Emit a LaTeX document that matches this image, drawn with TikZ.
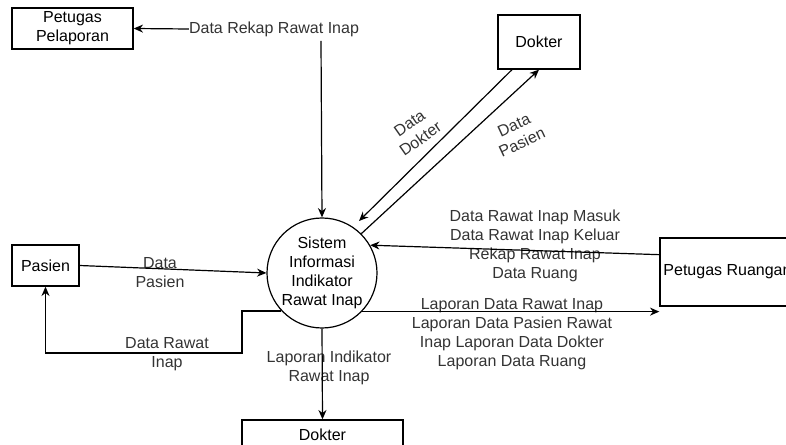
\documentclass[tikz,border=0pt]{standalone}
\usepackage{fontspec}
\setmainfont{Liberation Sans}
\usetikzlibrary{arrows.meta,calc}
\begin{document}
\begin{tikzpicture}[x=0.75pt,y=-0.75pt,
  every node/.style={font=\fontsize{12}{14.25}\selectfont, align=center},
  box/.style={draw, line width=1pt, inner sep=0pt, text=black},
  proc/.style={draw, circle, line width=0.9pt, minimum size=82.5pt, inner sep=0pt},
  lbl/.style={inner sep=0pt, text=black!80},
  arr/.style={draw, line width=0.9pt, -{Stealth[length=7pt,width=6pt]}},
  ln/.style={draw, line width=0.9pt}]
\useasboundingbox (0,0) rectangle (786,445);
% nodes
\node[box, minimum width=90.75pt, minimum height=30.75pt] (pp) at (72.5,28.5) {Petugas\\Pelaporan};
\node[box, minimum width=61.5pt, minimum height=40.5pt] (dk) at (539,42) {Dokter};
\node[box, minimum width=50.25pt, minimum height=30.75pt] (pas) at (45.5,265.5) {Pasien};
\node[box, minimum width=101.25pt, minimum height=51pt] (pr) at (727.5,272) {Petugas Ruangan};
\node[box, minimum width=120.75pt, minimum height=22.5pt] (dk2) at (322.5,435) {Dokter};
\node[proc] (sys) at (322,273) {Sistem\\Informasi\\Indikator\\Rawat Inap};
% labels
\node[lbl] (lrekap) at (274,29) {Data Rekap Rawat Inap};
\node[lbl] (lpas) at (160,272.5) {Data\\Pasien};
\node[lbl] (lri) at (167,354.5) {Data Rawat\\Inap};
\node[lbl] (lind) at (329,367.5) {Laporan Indikator\\Rawat Inap};
\node[lbl] (lmasuk) at (535,246) {Data Rawat Inap Masuk\\Data Rawat Inap Keluar\\Rekap Rawat Inap\\Data Ruang};
\node[lbl] (llap) at (512,334.5) {Laporan Data Rawat Inap\\Laporan Data Pasien Rawat\\Inap Laporan Data Dokter\\Laporan Data Ruang};
\node[lbl, rotate=35] (ldok) at (415,131) {Data\\Dokter};
\node[lbl, rotate=25] (ldp) at (518,134) {Data\\Pasien};
\coordinate (rtop) at (321,41);
% connectors
\draw[arr] (lrekap.west) -- (pp.east);
\draw[arr] (rtop) -- (sys.north);
\draw[arr] (pas.east) -- (sys.west);
\draw[arr] (sys.223.5) -| (242,353) -| (pas.south);
\draw[arr] (sys.316.5) -- (sys.316.5 -| pr.west);
\draw[arr] ($(pr.north west)!0.25!(pr.south west)$) -- (sys.30);
\draw[arr] ($(dk.south)+(-27,0)$) -- ($(sys.center)+(37,-52)$);
\draw[arr] (sys.45) -- (dk.south);
\draw[arr] (sys.south) -- (dk2.north);
\end{tikzpicture}
\end{document}
